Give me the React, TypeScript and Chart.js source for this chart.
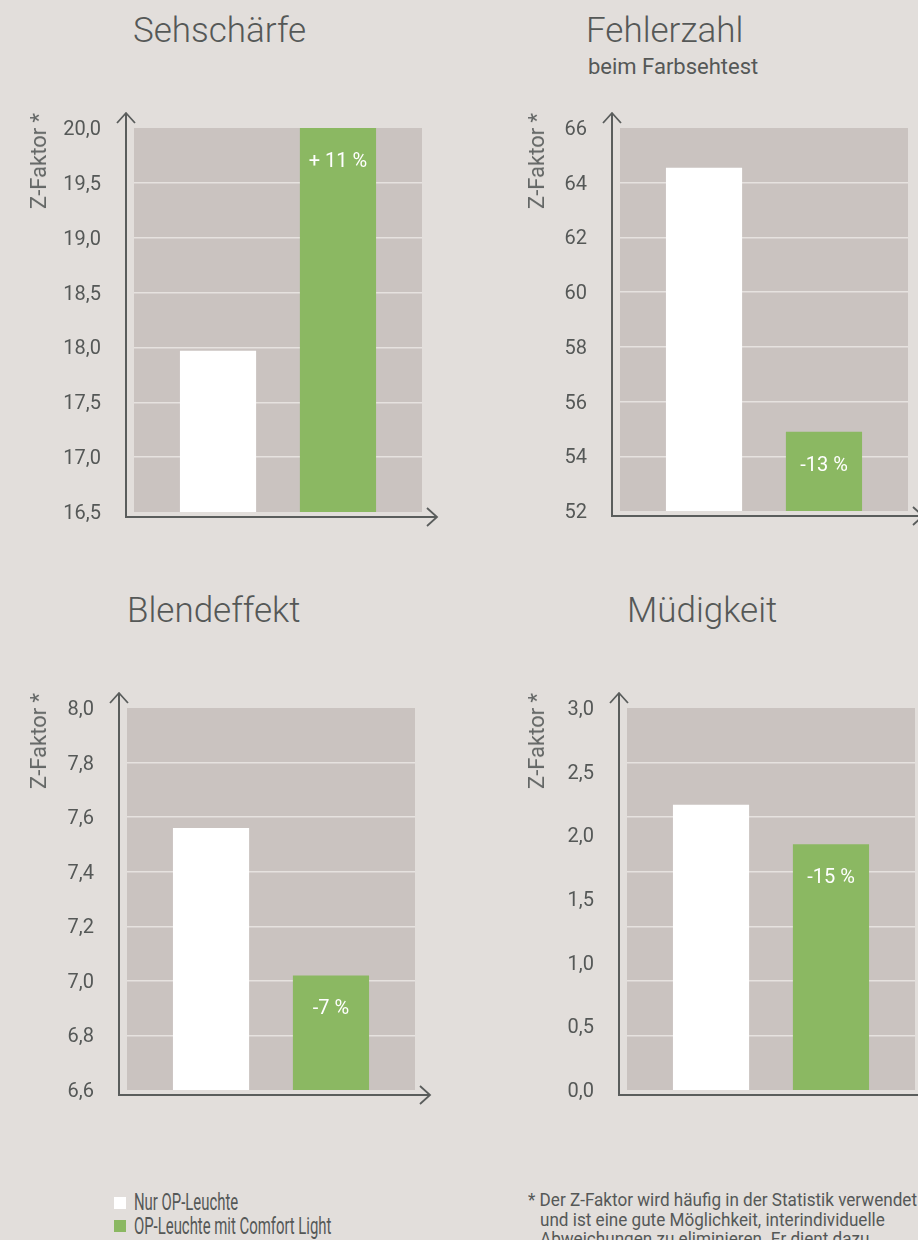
import React, { useEffect, useRef } from "react";
import { Chart, registerables } from "chart.js";

Chart.register(...registerables);

// ---------- data ----------
const SERIES = ["Nur OP-Leuchte", "OP-Leuchte mit Comfort Light"];
const PANEL_TITLES = ["Sehschärfe", "Fehlerzahl", "Blendeffekt", "Müdigkeit"];
const PANEL_SUBTITLES = ["", "beim Farbsehtest", "", ""];
const NUR_OP = [17.97, 64.55, 7.56, 2.24];
const COMFORT_LIGHT = [20.0, 54.9, 7.02, 1.93];
const CHANGE_LABELS = ["+ 11 %", "-13 %", "-7 %", "-15 %"];
const Y_MIN = [16.5, 52, 6.6, 0];
const Y_MAX = [20, 66, 8, 3];
const Y_STEP = [0.5, 2, 0.2, 0.5];
const Y_DECIMALS = [1, 0, 1, 1];
const GRID_BANDS = [7, 7, 7, 7];
const Y_TITLE = "Z-Faktor *";
const FOOTNOTE_LINES = [
  "* Der Z-Faktor wird häufig in der Statistik verwendet",
  "und ist eine gute Möglichkeit, interindividuelle",
  "Abweichungen zu eliminieren. Er dient dazu",
];

// ---------- styles / layout ----------
const C = {
  bg: "#e2dedb",
  plot: "#cac3c0",
  grid: "#e6e2df",
  axis: "#5a5d5c",
  text: "#555857",
  white: "#ffffff",
  green: "#8bb862",
};
const FONT = "Roboto, 'Noto Sans', sans-serif";
const PLOT_W = 288;
const PAD_L = 100;
const PAD_T = 30;
const PAD_R = 30;
const PAD_B = 30;

const LAYOUT = [
  { plotLeft: 134, plotTop: 128, plotH: 384, titleX: 133, titleY: 14, yTitleX: 38.5 },
  { plotLeft: 620, plotTop: 128, plotH: 383, titleX: 586, titleY: 14, yTitleX: 536.5 },
  { plotLeft: 127, plotTop: 708, plotH: 382, titleX: 127, titleY: 594, yTitleX: 38.5 },
  { plotLeft: 627, plotTop: 708, plotH: 382, titleX: 627, titleY: 594, yTitleX: 536.5 },
];

const decoPlugin = {
  id: "panelDeco",
  beforeDraw(chart: any) {
    const { ctx, chartArea: a } = chart;
    ctx.save();
    ctx.fillStyle = C.plot;
    ctx.fillRect(a.left, a.top, a.right - a.left, a.bottom - a.top);
    ctx.restore();
  },
  afterDatasetsDraw(chart: any, _args: any, opts: any) {
    const meta = chart.getDatasetMeta(1);
    const el = meta.data[0];
    if (!el) return;
    const { ctx } = chart;
    ctx.save();
    ctx.fillStyle = "#ffffff";
    ctx.font = `400 20px ${FONT}`;
    ctx.textAlign = "center";
    ctx.textBaseline = "middle";
    ctx.fillText(opts.label, el.x, el.y + 34);
    ctx.restore();
  },
  afterDraw(chart: any) {
    const { ctx, chartArea: a } = chart;
    const x0 = a.left - 8;
    const y0 = a.bottom + 5;
    const yTop = a.top - 15;
    const xRight = a.right + 15;
    ctx.save();
    ctx.strokeStyle = C.axis;
    ctx.lineWidth = 2;
    ctx.lineCap = "butt";
    ctx.beginPath();
    ctx.moveTo(x0, y0 + 1);
    ctx.lineTo(x0, yTop);
    ctx.moveTo(x0 - 1, y0);
    ctx.lineTo(xRight, y0);
    ctx.stroke();
    ctx.lineWidth = 1.8;
    ctx.beginPath();
    ctx.moveTo(x0 - 9, yTop + 10);
    ctx.lineTo(x0, yTop);
    ctx.lineTo(x0 + 9, yTop + 10);
    ctx.moveTo(xRight - 10, y0 - 9);
    ctx.lineTo(xRight, y0);
    ctx.lineTo(xRight - 10, y0 + 9);
    ctx.stroke();
    ctx.restore();
  },
};

function Panel({ i }: { i: number }) {
  const ref = useRef<HTMLCanvasElement>(null);
  const L = LAYOUT[i];
  const W = PAD_L + PLOT_W + PAD_R;
  const H = PAD_T + L.plotH + PAD_B;

  useEffect(() => {
    if (!ref.current) return;
    const bands = GRID_BANDS[i];
    const chart = new Chart(ref.current, {
      type: "bar",
      data: {
        labels: [""],
        datasets: [
          {
            label: SERIES[0],
            data: [NUR_OP[i]],
            backgroundColor: C.white,
            yAxisID: "y",
            categoryPercentage: 0.833,
            barPercentage: 0.635,
          },
          {
            label: SERIES[1],
            data: [COMFORT_LIGHT[i]],
            backgroundColor: C.green,
            yAxisID: "y",
            categoryPercentage: 0.833,
            barPercentage: 0.635,
          },
        ],
      },
      options: {
        responsive: false,
        animation: false,
        devicePixelRatio: 1,
        layout: {
          padding: { left: 0, top: PAD_T, right: PAD_R, bottom: PAD_B },
        },
        plugins: {
          legend: { display: false },
          tooltip: { enabled: false },
          panelDeco: { label: CHANGE_LABELS[i] },
        } as any,
        scales: {
          x: { display: false },
          y: {
            position: "left",
            min: Y_MIN[i],
            max: Y_MAX[i],
            ticks: {
              stepSize: Y_STEP[i],
              padding: 25,
              labelOffset: 2,
              color: C.text,
              font: { family: FONT, size: 20 },
              callback: (v: any) => Number(v).toFixed(Y_DECIMALS[i]).replace(".", ","),
            },
            grid: { display: false },
            border: { display: false },
            afterFit: (s: any) => {
              s.width = PAD_L;
              s.paddingTop = 0;
              s.paddingBottom = 0;
            },
          },
          g: {
            position: "left",
            min: 0,
            max: bands,
            ticks: { display: false, stepSize: 1 },
            grid: {
              drawTicks: false,
              lineWidth: 1.5,
              color: (ctx: any) =>
                ctx.index === 0 || ctx.index === bands ? "rgba(0,0,0,0)" : C.grid,
            },
            border: { display: false },
            afterFit: (s: any) => {
              s.width = 0;
              s.paddingTop = 0;
              s.paddingBottom = 0;
            },
          },
        } as any,
      },
      plugins: [decoPlugin as any],
    });
    return () => chart.destroy();
  }, [i]);

  return (
    <>
      <canvas
        ref={ref}
        width={W}
        height={H}
        style={{
          position: "absolute",
          left: L.plotLeft - PAD_L,
          top: L.plotTop - PAD_T,
          width: W,
          height: H,
        }}
      />
      <div
        style={{
          position: "absolute",
          left: L.titleX,
          top: L.titleY,
          fontFamily: FONT,
          fontWeight: 300,
          fontSize: 35,
          lineHeight: "34px",
          color: C.text,
          whiteSpace: "nowrap",
        }}
      >
        {PANEL_TITLES[i]}
      </div>
      {PANEL_SUBTITLES[i] && (
        <div
          style={{
            position: "absolute",
            left: L.titleX + 2,
            top: L.titleY + 42,
            fontFamily: FONT,
            fontSize: 22,
            lineHeight: "22px",
            color: C.text,
            whiteSpace: "nowrap",
          }}
        >
          {PANEL_SUBTITLES[i]}
        </div>
      )}
      <div
        style={{
          position: "absolute",
          left: L.yTitleX - 12,
          top: L.plotTop - 15,
          width: 24,
          fontFamily: FONT,
          fontSize: 22,
          lineHeight: "24px",
          color: "#646766",
          writingMode: "vertical-rl",
          transform: "rotate(180deg)",
          whiteSpace: "nowrap",
        }}
      >
        {Y_TITLE}
      </div>
    </>
  );
}

export default function App() {
  return (
    <div
      style={{
        position: "absolute",
        left: 0,
        top: 0,
        width: 918,
        height: 1240,
        overflow: "hidden",
        background: C.bg,
      }}
    >
      {[0, 1, 2, 3].map((i) => (
        <Panel key={i} i={i} />
      ))}
      {SERIES.map((s, k) => (
        <div key={s}>
          <div
            style={{
              position: "absolute",
              left: 114,
              top: 1197 + k * 23,
              width: 12,
              height: 12,
              background: k === 0 ? C.white : C.green,
            }}
          />
          <div
            style={{
              position: "absolute",
              left: 134,
              top: 1190 + k * 24,
              fontFamily: FONT,
              fontSize: 24,
              lineHeight: "24px",
              color: C.text,
              whiteSpace: "nowrap",
              transform: "scaleX(0.62)",
              transformOrigin: "left center",
            }}
          >
            {s}
          </div>
        </div>
      ))}
      {FOOTNOTE_LINES.map((t, k) => (
        <div
          key={k}
          style={{
            position: "absolute",
            left: k === 0 ? 528 : 540,
            top: 1190 + k * 19.5,
            fontFamily: FONT,
            fontSize: 18,
            lineHeight: "20px",
            color: C.text,
            whiteSpace: "nowrap",
            transform: "scaleX(0.95)",
            transformOrigin: "left center",
          }}
        >
          {t}
        </div>
      ))}
    </div>
  );
}
